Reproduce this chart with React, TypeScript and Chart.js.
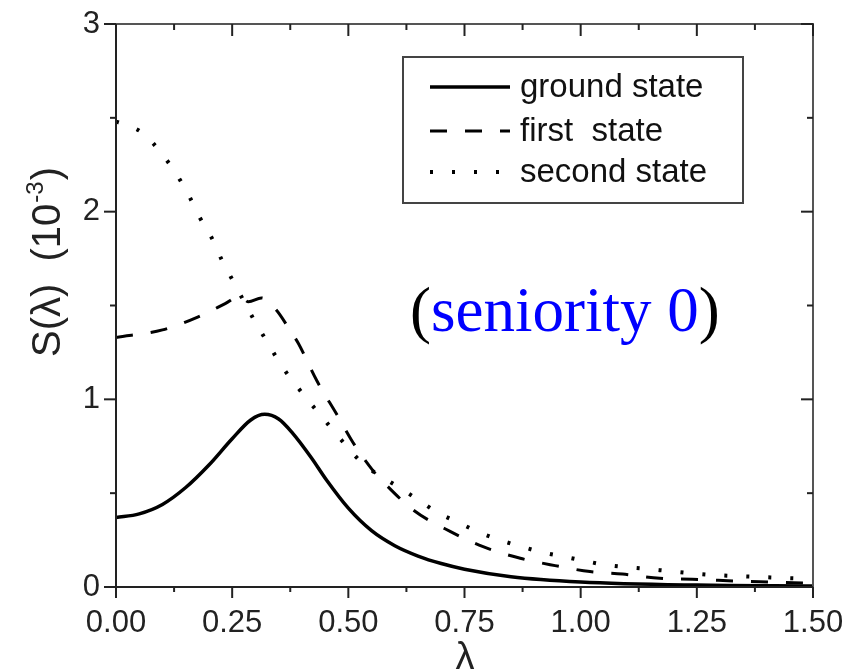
import React, { useEffect, useRef } from "react";
import { Chart, registerables } from "chart.js";

Chart.register(...registerables);

// ---------- data ----------
const groundX = [0, 0.05, 0.1, 0.15, 0.2, 0.25, 0.29, 0.32, 0.35, 0.38, 0.42, 0.453, 0.5, 0.55, 0.6, 0.65, 0.7, 0.75, 0.85, 1.0, 1.25, 1.5];
const groundY = [0.37, 0.39, 0.44, 0.53, 0.65, 0.79, 0.89, 0.92, 0.895, 0.82, 0.69, 0.57, 0.42, 0.30, 0.22, 0.165, 0.125, 0.095, 0.055, 0.027, 0.01, 0.005];

const firstX = [0, 0.1, 0.177, 0.235, 0.267, 0.285, 0.313, 0.345, 0.374, 0.392, 0.432, 0.475, 0.51, 0.553, 0.575, 0.64, 0.72, 0.79, 0.87, 0.945, 1.02, 1.09, 1.17, 1.24, 1.35, 1.5];
const firstY = [1.33, 1.37, 1.44, 1.51, 1.55, 1.52, 1.54, 1.476, 1.37, 1.30, 1.10, 0.92, 0.77, 0.62, 0.56, 0.41, 0.295, 0.215, 0.153, 0.114, 0.082, 0.069, 0.046, 0.041, 0.03, 0.02];

const secondX = [0, 0.012, 0.057, 0.098, 0.13, 0.157, 0.18, 0.206, 0.227, 0.252, 0.30, 0.328, 0.356, 0.389, 0.425, 0.464, 0.5, 0.53, 0.56, 0.6, 0.647, 0.69, 0.737, 0.783, 0.83, 0.873, 0.92, 0.966, 1.01, 1.056, 1.145, 1.19, 1.285, 1.37, 1.42, 1.5];
const secondY = [2.48, 2.47, 2.42, 2.31, 2.20, 2.085, 1.97, 1.86, 1.746, 1.63, 1.41, 1.295, 1.18, 1.07, 0.96, 0.845, 0.74, 0.66, 0.605, 0.545, 0.47, 0.40, 0.343, 0.29, 0.247, 0.215, 0.183, 0.161, 0.138, 0.117, 0.096, 0.085, 0.064, 0.055, 0.05, 0.043];

const seriesLabels = ["ground state", "first  state", "second state"];
const xTickValues = [0, 0.25, 0.5, 0.75, 1.0, 1.25, 1.5];
const yTickValues = [0, 1, 2, 3];
const xAxisTitle = "λ";
const yAxisTitleMain = "S(λ)  (10";
const yAxisTitleSup = "-3";
const yAxisTitleEnd = ")";
const noteOpen = "(";
const noteText = "seniority 0";
const noteClose = ")";

const SANS = "'Liberation Sans', Arial, sans-serif";
const SERIF = "'Liberation Serif', 'Times New Roman', serif";

const styles = [
  { width: 3.5, dash: [] as number[] },
  { width: 3, dash: [17, 18] },
  { width: 4, dash: [3, 19] },
];

const toPoints = (xs: number[], ys: number[]) => xs.map((x, i) => ({ x, y: ys[i] }));

const decorPlugin = {
  id: "decor",
  afterDraw(chart: any) {
    const { ctx, chartArea, scales } = chart;
    const { left, right, top, bottom } = chartArea;
    const xs = scales.x;
    const ys = scales.y;
    ctx.save();
    // frame
    ctx.strokeStyle = "#222";
    ctx.lineWidth = 2;
    ctx.setLineDash([]);
    ctx.beginPath();
    ctx.moveTo(left, top);
    ctx.lineTo(left, bottom);
    ctx.lineTo(right, bottom);
    ctx.stroke();
    ctx.strokeStyle = "#555";
    ctx.beginPath();
    ctx.moveTo(left, top);
    ctx.lineTo(right, top);
    ctx.lineTo(right, bottom);
    ctx.stroke();

    const seg = (x1: number, y1: number, x2: number, y2: number) => {
      ctx.beginPath();
      ctx.moveTo(x1, y1);
      ctx.lineTo(x2, y2);
      ctx.stroke();
    };
    ctx.strokeStyle = "#222";
    ctx.lineWidth = 2;
    for (let i = 0; i < xTickValues.length; i++) {
      const px = xs.getPixelForValue(xTickValues[i]);
      seg(px, bottom, px, bottom + 11);
      seg(px, top, px, top + 12);
      if (i < xTickValues.length - 1) {
        const mx = xs.getPixelForValue((xTickValues[i] + xTickValues[i + 1]) / 2);
        seg(mx, bottom, mx, bottom + 5);
        seg(mx, top, mx, top + 6);
      }
    }
    for (let i = 0; i < yTickValues.length; i++) {
      const py = ys.getPixelForValue(yTickValues[i]);
      seg(left - 12, py, left, py);
      seg(right - 12, py, right, py);
      if (i < yTickValues.length - 1) {
        const my = ys.getPixelForValue((yTickValues[i] + yTickValues[i + 1]) / 2);
        seg(left - 6, my, left, my);
        seg(right - 6, my, right, my);
      }
    }

    // legend
    const lx = 403, ly = 57, lw = 340, lh = 146;
    ctx.strokeStyle = "#444";
    ctx.lineWidth = 2;
    ctx.strokeRect(lx, ly, lw, lh);
    const rowY = [87, 131, 172];
    ctx.font = `33px ${SANS}`;
    ctx.textBaseline = "alphabetic";
    ctx.textAlign = "left";
    ctx.fillStyle = "#111";
    chart.data.datasets.forEach((ds: any, i: number) => {
      ctx.strokeStyle = "#000";
      ctx.lineWidth = styles[i].width;
      ctx.setLineDash(styles[i].dash);
      seg(430, rowY[i], 510, rowY[i]);
      ctx.setLineDash([]);
      ctx.fillText(ds.label, 520, rowY[i] + 10);
    });

    // note
    ctx.font = `63px ${SERIF}`;
    let nx = 410;
    const ny = 331;
    ctx.fillStyle = "#000";
    ctx.fillText(noteOpen, nx, ny);
    nx += ctx.measureText(noteOpen).width;
    ctx.fillStyle = "#0000ff";
    ctx.fillText(noteText, nx, ny);
    nx += ctx.measureText(noteText).width;
    ctx.fillStyle = "#000";
    ctx.fillText(noteClose, nx, ny);

    // y title
    ctx.save();
    ctx.translate(60, 357);
    ctx.rotate(-Math.PI / 2);
    ctx.fillStyle = "#222";
    ctx.font = `40px ${SANS}`;
    ctx.fillText(yAxisTitleMain, 0, 0);
    let tx = ctx.measureText(yAxisTitleMain).width;
    ctx.font = `24px ${SANS}`;
    ctx.fillText(yAxisTitleSup, tx + 1, -17);
    tx += ctx.measureText(yAxisTitleSup).width + 2;
    ctx.font = `40px ${SANS}`;
    ctx.fillText(yAxisTitleEnd, tx, 0);
    ctx.restore();

    // x title
    ctx.font = `38px ${SANS}`;
    ctx.fillStyle = "#222";
    ctx.textAlign = "center";
    ctx.textBaseline = "top";
    ctx.fillText(xAxisTitle, 465, 640);
    ctx.restore();
  },
};

export default function App() {
  const ref = useRef<HTMLCanvasElement | null>(null);
  useEffect(() => {
    if (!ref.current) return;
    const chart = new Chart(ref.current, {
      type: "line",
      data: {
        datasets: [
          { label: seriesLabels[0], data: toPoints(groundX, groundY) },
          { label: seriesLabels[1], data: toPoints(firstX, firstY) },
          { label: seriesLabels[2], data: toPoints(secondX, secondY) },
        ].map((d, i) => ({
          ...d,
          borderColor: "#000",
          backgroundColor: "#000",
          borderWidth: styles[i].width,
          borderDash: styles[i].dash,
          pointRadius: 0,
          fill: false,
          cubicInterpolationMode: "monotone" as const,
        })),
      },
      options: {
        responsive: false,
        animation: false,
        layout: { padding: { left: 0, right: 37, top: 24, bottom: 0 } },
        plugins: { legend: { display: false }, tooltip: { enabled: false } },
        scales: {
          x: {
            type: "linear",
            min: 0,
            max: 1.5,
            afterBuildTicks: (s: any) => {
              s.ticks = xTickValues.map((v) => ({ value: v }));
            },
            afterFit: (s: any) => {
              s.height = 82;
              s.paddingLeft = 0;
              s.paddingRight = 0;
            },
            grid: { display: false, drawTicks: false },
            border: { display: false },
            ticks: {
              autoSkip: false,
              maxRotation: 0,
              padding: 18,
              color: "#222",
              font: { family: SANS, size: 31 },
              callback: (v: any) => Number(v).toFixed(2),
            },
          },
          y: {
            type: "linear",
            min: 0,
            max: 3,
            afterBuildTicks: (s: any) => {
              s.ticks = yTickValues.map((v) => ({ value: v }));
            },
            afterFit: (s: any) => {
              s.width = 116;
              s.paddingTop = 0;
              s.paddingBottom = 0;
            },
            grid: { display: false, drawTicks: false },
            border: { display: false },
            ticks: {
              autoSkip: false,
              padding: 16,
              color: "#222",
              font: { family: SANS, size: 31 },
              callback: (v: any) => String(v),
            },
          },
        },
      },
      plugins: [decorPlugin],
    });
    return () => chart.destroy();
  }, []);
  return (
    <div style={{ position: "absolute", left: 0, top: 0, width: 850, height: 669, background: "#fff" }}>
      <canvas ref={ref} width={850} height={669} />
    </div>
  );
}
